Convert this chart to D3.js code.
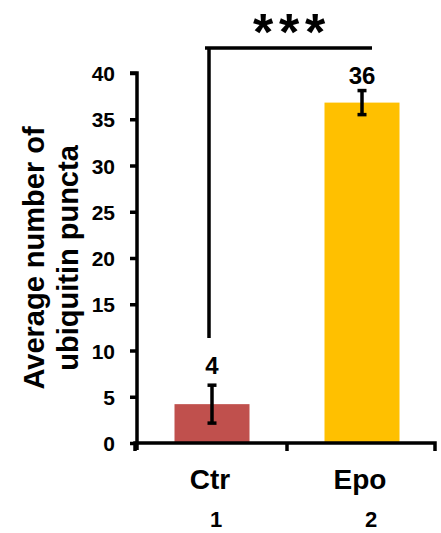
<!DOCTYPE html>
<html>
<head>
<meta charset="utf-8">
<script src="https://cdn.jsdelivr.net/npm/d3@7"></script>
<style>
  html, body { margin: 0; padding: 0; background: #fff; }
  svg { display: block; }
  text { font-family: "Liberation Sans", Arial, sans-serif; font-weight: bold; fill: #000; }
</style>
</head>
<body>
<svg id="chart" width="441" height="533"></svg>
<script>
const categories = ["Ctr", "Epo"];
const groupNumbers = ["1", "2"];
const means = [4.2, 36.8];
const errors = [2.05, 1.3];
const valueLabels = ["4", "36"];
const colors = ["#C0504D", "#FFC000"];
const yTicks = [0, 5, 10, 15, 20, 25, 30, 35, 40];
const significance = ["*", "*", "*"];
const yTitleLines = ["Average number of", "ubiquitin puncta"];

(function () {
const svg = d3.select("#chart");
const mLeft = 137, mRight = 437, mTop = 73, mBottom = 443;

const x = d3.scaleBand().domain(categories).range([mLeft, mRight]).paddingInner(0).paddingOuter(0);
const y = d3.scaleLinear().domain([0, 40]).range([mBottom, mTop]);

// bars
svg.selectAll("rect.bar").data(categories).join("rect")
  .attr("class", "bar")
  .attr("x", d => x(d) + x.bandwidth() / 2 - 37.5)
  .attr("width", 75)
  .attr("y", (d, i) => y(means[i]))
  .attr("height", (d, i) => y(0) - y(means[i]))
  .attr("fill", (d, i) => colors[i]);

// error bars
const eb = svg.append("g").attr("stroke", "#000").attr("stroke-width", 3.5);
categories.forEach((c, i) => {
  const cx = x(c) + x.bandwidth() / 2;
  eb.append("line").attr("x1", cx).attr("x2", cx).attr("y1", y(means[i] + errors[i])).attr("y2", y(means[i] - errors[i]));
  eb.append("line").attr("x1", cx - 4.5).attr("x2", cx + 4.5).attr("y1", y(means[i] + errors[i])).attr("y2", y(means[i] + errors[i]));
  eb.append("line").attr("x1", cx - 4.5).attr("x2", cx + 4.5).attr("y1", y(means[i] - errors[i])).attr("y2", y(means[i] - errors[i]));
});

// value labels
svg.selectAll("text.vl").data(categories).join("text")
  .attr("class", "vl")
  .attr("x", d => x(d) + x.bandwidth() / 2)
  .attr("y", (d, i) => i === 0 ? 374 : 84)
  .attr("text-anchor", "middle")
  .style("font-size", "24px")
  .text((d, i) => valueLabels[i]);

// y axis
const yAxis = d3.axisLeft(y).tickValues(yTicks).tickSize(7).tickPadding(15);
const gy = svg.append("g").attr("transform", `translate(${mLeft},0)`).call(yAxis);
gy.select(".domain").attr("stroke", "#000").attr("stroke-width", 3.5).attr("d", `M-7,${mTop}H0V${mBottom + 7}`);
gy.selectAll(".tick line").attr("stroke", "#000").attr("stroke-width", 3.5);
gy.selectAll(".tick text").style("font-size", "21px").style("font-family", "'Liberation Sans', Arial, sans-serif").style("font-weight", "bold").attr("dy", "0.36em");

// x axis
const xAxis = d3.axisBottom(x).tickValues([]).tickSizeOuter(8);
const gx = svg.append("g").attr("transform", `translate(0,${mBottom})`).call(xAxis);
gx.select(".domain").attr("stroke", "#000").attr("stroke-width", 3.5)
  .attr("d", `M${mLeft - 2},8V0H${mRight - 2}V8`);
gx.append("line").attr("x1", x(categories[1])).attr("x2", x(categories[1])).attr("y1", 0).attr("y2", 8)
  .attr("stroke", "#000").attr("stroke-width", 3.5);

// category labels
svg.selectAll("text.cat").data(categories).join("text")
  .attr("class", "cat")
  .attr("x", d => x(d) + x.bandwidth() / 2 - 2)
  .attr("y", 489)
  .attr("text-anchor", "middle")
  .style("font-size", "28px")
  .text(d => d);

svg.selectAll("text.num").data(groupNumbers).join("text")
  .attr("class", "num")
  .attr("x", (d, i) => x(categories[i]) + x.bandwidth() / 2 + (i === 0 ? 4 : 9))
  .attr("y", 527)
  .attr("text-anchor", "middle")
  .style("font-size", "22px")
  .text(d => d);

// y title
const yt = svg.append("text")
  .attr("transform", "translate(44,258) rotate(-90)")
  .attr("text-anchor", "middle")
  .style("font-size", "29px");
yt.append("tspan").attr("x", 0).attr("y", 0).text(yTitleLines[0]);
yt.append("tspan").attr("x", 0).attr("y", 34).text(yTitleLines[1]);

// significance bracket
const sig = svg.append("g").attr("stroke", "#000").attr("stroke-width", 3.5).attr("fill", "none");
sig.append("path").attr("d", `M209,338V48M205,48H372`);
svg.selectAll("text.star").data(significance).join("text")
  .attr("class", "star")
  .attr("x", (d, i) => 263 + i * 26)
  .attr("y", 50)
  .attr("text-anchor", "middle")
  .style("font-size", "52px")
  .text(d => d);
})();
</script>
</body>
</html>
